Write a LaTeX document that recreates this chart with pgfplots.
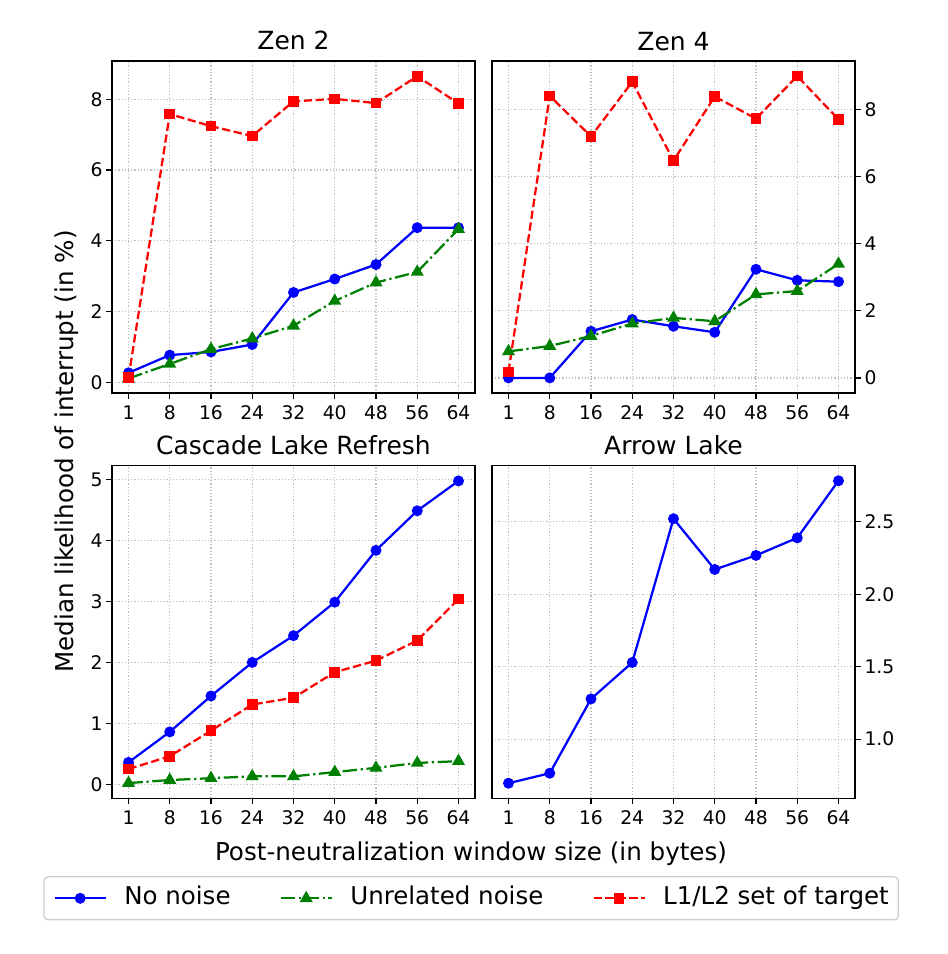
\documentclass[border=0pt]{standalone}
\usepackage{fontspec}
\setmainfont{DejaVu Sans}
\usepackage{pgfplots}
\pgfplotsset{compat=1.18}
\definecolor{mplblue}{RGB}{0,0,255}
\definecolor{mplgreen}{RGB}{0,128,0}
\definecolor{mplred}{RGB}{255,0,0}
\pgfplotsset{
  panel/.style={
    scale only axis, width=363pt, height=332pt,
    xmin=-0.4, xmax=8.4, xtick={0,...,8},
    xticklabels={1,8,16,24,32,40,48,56,64},
    tick align=outside, major tick length=6pt,
    xtick pos=left,
    every tick/.style={black, line width=1.2pt},
    axis line style={line width=1.2pt},
    grid=major,
    grid style={line width=1.2pt, color=black!25, dash pattern=on 1.2pt off 2pt},
    tick label style={font=\fontsize{18.75}{22}\selectfont},
    xticklabel style={yshift=-3pt},
    /pgf/number format/assume math mode=true,
    title style={at={(0.5,1)}, anchor=base, yshift=5pt, font=\fontsize{25}{30}\selectfont},
  },
  leftpanel/.style={panel, ytick pos=left},
  rightpanel/.style={panel, ytick pos=right, yticklabel pos=right},
  sblue/.style={color=mplblue, line width=2.25pt, mark=*, mark size=4.3pt, mark options={solid}},
  sgreen/.style={color=mplgreen, line width=2.25pt, dash pattern=on 14.4pt off 3.6pt on 2.25pt off 3.6pt, mark=triangle*, mark size=5.3pt, mark options={solid}},
  sred/.style={color=mplred, line width=2.25pt, dash pattern=on 8.3pt off 3.6pt, mark=square*, mark size=4.2pt, mark options={solid}},
}
\begin{document}
\begin{tikzpicture}
\useasboundingbox (0,0) rectangle (948pt,954pt);
% Zen 2
\begin{axis}[leftpanel, at={(112pt,561pt)}, anchor=south west, title={Zen 2},
  ymin=-0.3, ymax=9.08, ytick={0,2,4,6,8}]
\addplot[sblue] coordinates {(0,0.27)(1,0.77)(2,0.86)(3,1.07)(4,2.54)(5,2.92)(6,3.33)(7,4.37)(8,4.37)};
\addplot[sgreen] coordinates {(0,0.11)(1,0.52)(2,0.94)(3,1.24)(4,1.60)(5,2.30)(6,2.82)(7,3.12)(8,4.33)};
\addplot[sred] coordinates {(0,0.13)(1,7.58)(2,7.24)(3,6.96)(4,7.94)(5,8.01)(6,7.89)(7,8.65)(8,7.88)};
\end{axis}
% Zen 4
\begin{axis}[rightpanel, at={(492pt,561pt)}, anchor=south west, title={Zen 4},
  ymin=-0.45, ymax=9.45, ytick={0,2,4,6,8}]
\addplot[sblue] coordinates {(0,0)(1,0)(2,1.39)(3,1.74)(4,1.54)(5,1.36)(6,3.24)(7,2.91)(8,2.87)};
\addplot[sgreen] coordinates {(0,0.79)(1,0.95)(2,1.25)(3,1.62)(4,1.79)(5,1.69)(6,2.49)(7,2.59)(8,3.40)};
\addplot[sred] coordinates {(0,0.18)(1,8.41)(2,7.20)(3,8.83)(4,6.48)(5,8.39)(6,7.73)(7,9.00)(8,7.71)};
\end{axis}
% Cascade Lake Refresh
\begin{axis}[leftpanel, at={(112pt,155.7pt)}, anchor=south west, title={Cascade Lake Refresh},
  height=332.6pt, ymin=-0.23, ymax=5.23, ytick={0,1,2,3,4,5},
  legend columns=3,
  legend style={at={(0.9895,-0.3007)}, anchor=center,
    font=\fontsize{24.5}{29}\selectfont,
    draw=black!20, line width=1.2pt, rounded corners=4pt,
    inner xsep=9.5pt, inner ysep=9pt,
    nodes={inner sep=0pt, text height=19pt, text depth=6pt},
    /tikz/every odd column/.append style={column sep=17.5pt},
    /tikz/every even column/.append style={column sep=49pt}},
  legend image code/.code={\draw[mark repeat=2,mark phase=2,#1] plot coordinates {(0pt,0pt) (25.5pt,0pt) (51pt,0pt)};}]
\addplot[sblue] coordinates {(0,0.36)(1,0.86)(2,1.45)(3,2.00)(4,2.44)(5,2.99)(6,3.84)(7,4.49)(8,4.98)};
\addplot[sgreen] coordinates {(0,0.02)(1,0.07)(2,0.10)(3,0.13)(4,0.13)(5,0.20)(6,0.27)(7,0.35)(8,0.38)};
\addplot[sred] coordinates {(0,0.25)(1,0.46)(2,0.88)(3,1.31)(4,1.42)(5,1.84)(6,2.03)(7,2.36)(8,3.04)};
\legend{No noise, Unrelated noise, L1/L2 set of target}
\end{axis}
% Arrow Lake
\begin{axis}[rightpanel, at={(492pt,155.7pt)}, anchor=south west, title={Arrow Lake},
  height=332.6pt, ymin=0.592, ymax=2.887, ytick={1.0,1.5,2.0,2.5},
  yticklabel style={/pgf/number format/.cd, fixed, fixed zerofill, precision=1}]
\addplot[sblue] coordinates {(0,0.696)(1,0.765)(2,1.278)(3,1.529)(4,2.521)(5,2.171)(6,2.268)(7,2.389)(8,2.783)};
\end{axis}
\node[anchor=base, font=\fontsize{24.6}{29}\selectfont] at (471pt,93.3pt) {Post-neutralization window size (in bytes)};
\node[anchor=base, rotate=90, font=\fontsize{24.6}{29}\selectfont] at (73pt,502.5pt) {Median likelihood of interrupt (in \%)};
\end{tikzpicture}
\end{document}
